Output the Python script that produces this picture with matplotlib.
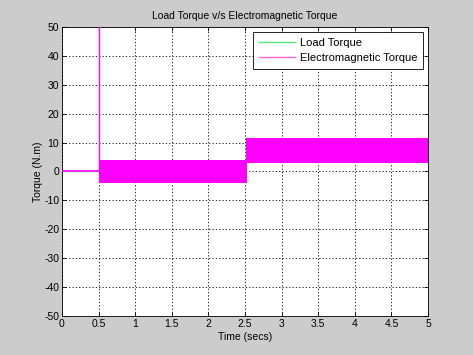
import matplotlib
matplotlib.use('agg')
import matplotlib.pyplot as plt
import numpy as np

# time breakpoints (s) and torque envelopes (N.m)
seg_start = [0.0, 0.5, 2.51]
seg_end = [0.5, 2.53, 5.0]
te_lower = [0.0, -4.0, 3.0]
te_upper = [0.0, 4.0, 11.5]
spike_t = [0.5, 0.5]
spike_y = [0.0, 60.0]
load_t = [0.0, 2.52, 2.52, 5.0]
load_y = [0.0, 0.0, 7.0, 7.0]

xticks = [0, 0.5, 1, 1.5, 2, 2.5, 3, 3.5, 4, 4.5, 5]
xticklabels = ['0', '0.5', '1', '1.5', '2', '2.5', '3', '3.5', '4', '4.5', '5']
yticks = list(range(-50, 51, 10))

plt.rcParams['font.family'] = ['Liberation Sans', 'DejaVu Sans']
plt.rcParams['font.size'] = 7.5
plt.rcParams['axes.unicode_minus'] = False

fig = plt.figure(figsize=(4.73, 3.55), dpi=100, facecolor='#cccccc')
ax = fig.add_axes([0.131, 0.110, 0.774, 0.814])
ax.set_facecolor('white')

green = '#55ee77'
magenta = '#ff00ff'
ax.plot(load_t, load_y, color=green, lw=1.0, label='Load Torque', zorder=2)
for s, e, lo, hi in zip(seg_start, seg_end, te_lower, te_upper):
    if hi > lo:
        ax.fill_between([s, e], [lo, lo], [hi, hi], color=magenta, lw=0, zorder=3)
    else:
        ax.plot([s, e], [lo, hi], color=magenta, lw=1.2, zorder=3)
ax.plot(spike_t, spike_y, color=magenta, lw=1.0, zorder=3)
ax.plot([], [], color='#ff66cc', lw=1.0, label='Electromagnetic Torque')

ax.set_xlim(0, 5)
ax.set_ylim(-50, 50)
ax.set_xticks(xticks)
ax.set_xticklabels(xticklabels)
ax.set_yticks(yticks)
ax.tick_params(direction='in', top=True, right=True, length=3, width=0.6, pad=2)
ax.grid(True, color='black', linestyle=(0, (1.5, 2.5)), lw=0.6)
for sp in ax.spines.values():
    sp.set_linewidth(0.6)

ax.set_title('Load Torque v/s Electromagnetic Torque', fontsize=7.5, pad=6)
ax.set_xlabel('Time (secs)', labelpad=2)
ax.set_ylabel('Torque (N.m)', labelpad=1)

leg = ax.legend(loc='upper right', bbox_to_anchor=(0.986, 0.981), fancybox=False,
                edgecolor='black', framealpha=1, borderpad=0.5, labelspacing=0.45,
                handlelength=3.3, handletextpad=0.4, borderaxespad=0, fontsize=8)
leg.get_frame().set_linewidth(0.6)

fig.savefig('out.png', dpi=100, facecolor=fig.get_facecolor())
